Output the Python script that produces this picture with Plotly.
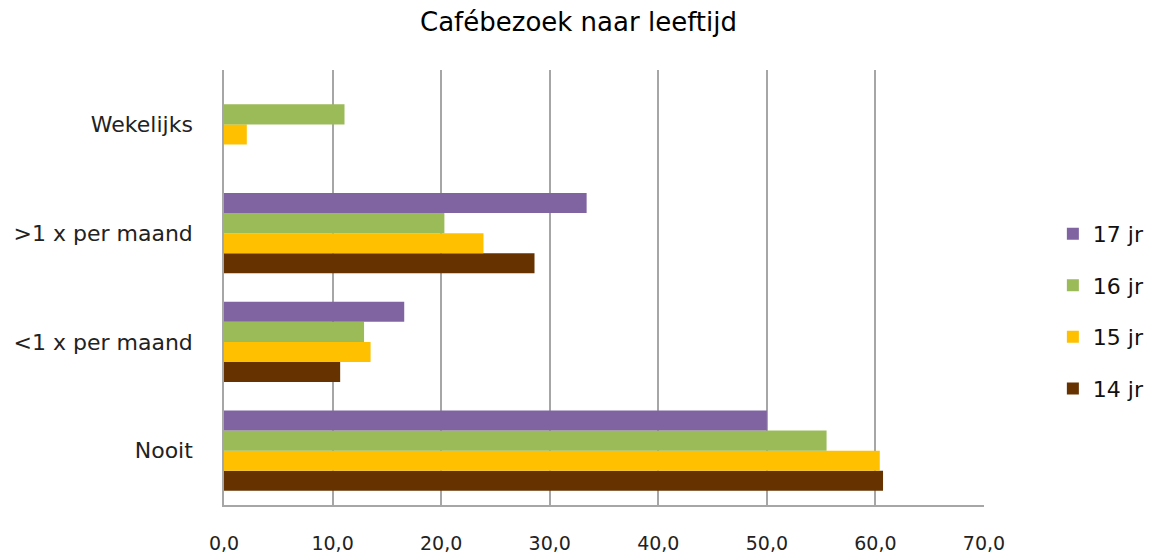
import plotly.graph_objects as go

categories = ["Nooit", "<1 x per maand", ">1 x per maand", "Wekelijks"]
series_names = ["14 jr", "15 jr", "16 jr", "17 jr"]
values_14 = [60.7, 10.7, 28.6, 0.0]
values_15 = [60.4, 13.5, 23.9, 2.1]
values_16 = [55.5, 12.9, 20.3, 11.1]
values_17 = [50.0, 16.6, 33.4, 0.0]
colors = ["#663300", "#FFC000", "#9BBB59", "#8064A2"]
x_ticks = [0, 10, 20, 30, 40, 50, 60, 70]

FONT = "DejaVu Sans, Verdana, sans-serif"

fig = go.Figure()
for i, (name, vals, col) in enumerate(zip(series_names, [values_14, values_15, values_16, values_17], colors)):
    fig.add_trace(go.Bar(
        y=categories, x=vals, name=name, orientation="h",
        marker=dict(color=col, line=dict(width=0)),
        legendgroup=name, legendrank=10 - i,
    ))

fig.update_layout(
    width=1157, height=555,
    barmode="group", bargap=0.26, bargroupgap=0,
    separators=",.",
    plot_bgcolor="white", paper_bgcolor="white",
    margin=dict(l=224, r=173, t=70, b=50, autoexpand=False),
    title=dict(text="Cafébezoek naar leeftijd", x=0.5, xanchor="center",
               yref="container", y=0.96, yanchor="middle",
               font=dict(family=FONT, size=26, color="black")),
    font=dict(family=FONT, color="black"),
    legend=dict(xref="container", x=0.91, xanchor="left", yref="container", y=0.439, yanchor="middle",
                traceorder="grouped", tracegroupgap=20,
                font=dict(size=22, family=FONT, color="#111111"),
                itemwidth=30),
    showlegend=True,
)
fig.update_xaxes(
    range=[0, 70], tickvals=x_ticks, tickformat=".1f",
    showgrid=True, gridcolor="#a6a6a6", gridwidth=1.5,
    showline=True, linecolor="#a6a6a6", linewidth=1.5,
    ticks="", ticklabelstandoff=20, automargin=False,
    tickfont=dict(size=19, color="#222222"),
    zeroline=False, fixedrange=True,
)
fig.update_yaxes(
    categoryorder="array", categoryarray=categories,
    showline=True, linecolor="#a6a6a6", linewidth=1.5,
    ticks="", ticklabelstandoff=25, automargin=False,
    tickfont=dict(size=22, color="#222222"),
    showgrid=False, fixedrange=True,
)
fig.write_html("out.html", config={"displayModeBar": False},
               post_script="document.body.style.margin='0';")
